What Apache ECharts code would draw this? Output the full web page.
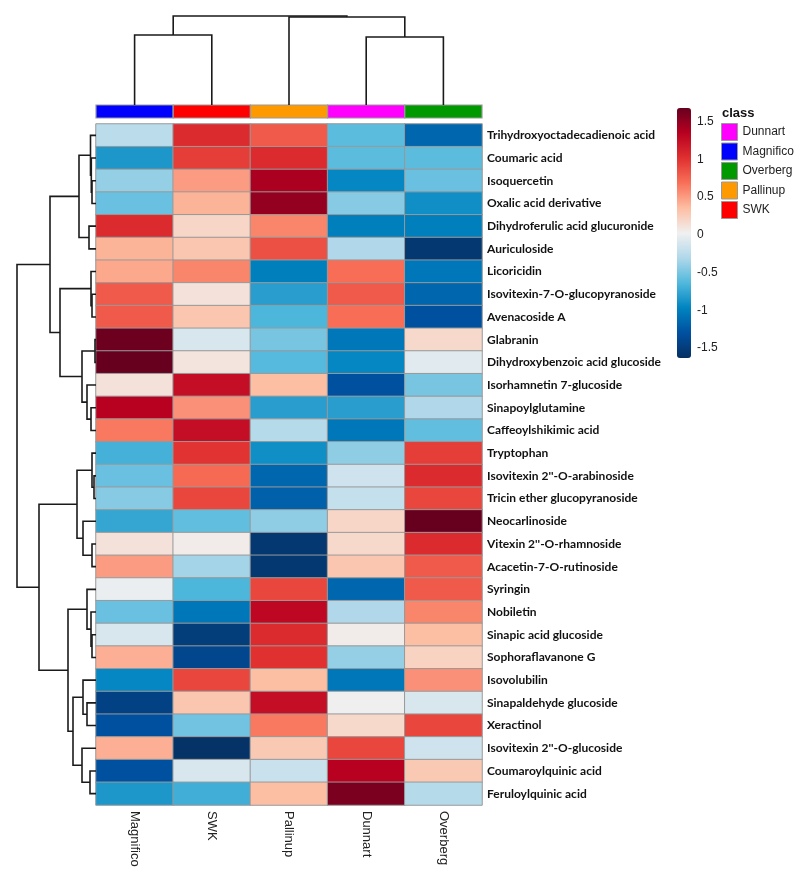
<!DOCTYPE html>
<html><head><meta charset="utf-8">
<script src="https://cdn.jsdelivr.net/npm/echarts@6/dist/echarts.min.js"></script>
<style>html,body{margin:0;padding:0;background:#fff}#c{width:799px;height:882px}</style>
</head><body><div id="c"></div>
<script>
const columns = ['Magnifico','SWK','Pallinup','Dunnart','Overberg'];
const compounds = ['Trihydroxyoctadecadienoic acid','Coumaric acid','Isoquercetin','Oxalic acid derivative','Dihydroferulic acid glucuronide','Auriculoside','Licoricidin','Isovitexin-7-O-glucopyranoside','Avenacoside A','Glabranin','Dihydroxybenzoic acid glucoside','Isorhamnetin 7-glucoside','Sinapoylglutamine','Caffeoylshikimic acid','Tryptophan',"Isovitexin 2''-O-arabinoside",'Tricin ether glucopyranoside','Neocarlinoside',"Vitexin 2''-O-rhamnoside",'Acacetin-7-O-rutinoside','Syringin','Nobiletin','Sinapic acid glucoside','Sophoraflavanone G','Isovolubilin','Sinapaldehyde glucoside','Xeractinol',"Isovitexin 2''-O-glucoside",'Coumaroylquinic acid','Feruloylquinic acid'];
const magnifico = [-0.25,-0.85,-0.4,-0.55,1.05,0.4,0.45,0.8,0.8,1.65,1.7,0.12,1.35,0.65,-0.68,-0.55,-0.45,-0.75,0.12,0.5,0.0,-0.55,-0.1,0.42,-0.95,-1.45,-1.3,0.42,-1.3,-0.85];
const swk       = [1.05,0.95,0.5,0.4,0.2,0.3,0.6,0.12,0.3,-0.1,0.1,1.25,0.55,1.25,1.0,0.72,0.9,-0.58,0.05,-0.35,-0.65,-1.05,-1.5,-1.4,0.9,0.3,-0.52,-1.6,-0.1,-0.7];
const pallinup  = [0.8,1.05,1.4,1.5,0.6,0.85,-1.0,-0.8,-0.65,-0.5,-0.62,0.35,-0.8,-0.28,-0.9,-1.15,-1.2,-0.42,-1.55,-1.55,0.9,1.3,1.05,1.02,0.35,1.25,0.65,0.28,-0.18,0.35];
const dunnart   = [-0.6,-0.6,-0.95,-0.45,-1.0,-0.3,0.7,0.8,0.7,-1.05,-0.95,-1.3,-0.8,-1.05,-0.42,-0.15,-0.2,0.2,0.18,0.3,-1.15,-0.3,0.05,-0.4,-1.05,0.03,0.18,0.9,1.35,1.6];
const overberg  = [-1.15,-0.6,-0.55,-0.9,-1.0,-1.55,-1.05,-1.15,-1.3,0.18,-0.05,-0.5,-0.3,-0.58,0.95,1.05,0.9,1.7,1.05,0.8,0.8,0.6,0.35,0.22,0.55,-0.1,0.9,-0.15,0.28,-0.28];
const colorTicks = [-1.5,-1,-0.5,0,0.5,1,1.5];
const legendClasses = ['Dunnart','Magnifico','Overberg','Pallinup','SWK'];
// dendrograms: [mergeHeight, left, right]; leaves are indices
const rowTree = [79,
  [46,
    [17, [5.5, 0, [4.7, 1, [4, 2, 3]]], [7, 4, 5]],
    [36, [5, 6, [4, 7, 8]], [14, [1, 9, 10], [9, 11, [5, 12, 13]]]]],
  [57,
    [19, [4, 14, [2, 15, 16]], [13, 17, [4, 18, 19]]],
    [28, [9, 20, [5, 21, [4, 22, 23]]], [23, [13, 24, [9, 25, 26]], [14, 27, [6, 28, 29]]]]]];
const colTree = [89, [70, 0, 1], [88, 2, [68, 3, 4]]];

const classColors = {Dunnart:'#ff00ff', Magnifico:'#0000ff', Overberg:'#009900', Pallinup:'#ff9900', SWK:'#ff0000'};

const valueCols = [magnifico, swk, pallinup, dunnart, overberg];
const heatData = [];
compounds.forEach((c, r) => columns.forEach((col, ci) => heatData.push([ci, r, valueCols[ci][r]])));

function layout(node, segs) {
  if (typeof node === 'number') return {pos: node, h: 0};
  const a = layout(node[1], segs), b = layout(node[2], segs), h = node[0];
  segs.push([[a.pos, a.h], [a.pos, h], [b.pos, h], [b.pos, b.h]]);
  return {pos: (a.pos + b.pos) / 2, h: h};
}
const rowSegs = []; layout(rowTree, rowSegs);
const colSegs = []; layout(colTree, colSegs);

const HM = {left: 96, top: 124, width: 386, height: 681};
const chart = echarts.init(document.getElementById('c'), null, {renderer: 'canvas'});
const lineStyle = {color: '#1a1a1a', width: 1.6, opacity: 1};
const classSeries = columns.map((col, ci) => ({
  name: col, type: 'custom', xAxisIndex: 1, yAxisIndex: 1,
  itemStyle: {color: classColors[col]},
  data: [[ci, 0]],
  renderItem: (params, api) => {
    const c = api.coord([api.value(0), api.value(1)]);
    const s = api.size([1, 1]);
    return {type: 'rect', shape: {x: c[0] - s[0] / 2, y: c[1] - s[1] / 2, width: s[0], height: s[1]},
      style: {fill: api.visual('color'), stroke: '#999', lineWidth: 1.2}};
  }
}));

chart.setOption({
  backgroundColor: '#fff',
  animation: false,
  grid: [
    {left: HM.left, top: HM.top, width: HM.width, height: HM.height},
    {left: HM.left, top: 105, width: HM.width, height: 13},
    {left: HM.left, top: 0, width: HM.width, height: 105},
    {left: 0, top: HM.top, width: 96, height: HM.height},
    {left: 677, top: 108, width: 14, height: 250}
  ],
  xAxis: [
    {type: 'category', gridIndex: 0, data: columns, position: 'bottom',
     axisLine: {show: false}, axisTick: {show: false}, splitLine: {show: false},
     axisLabel: {rotate: -90, margin: 6, fontSize: 13, color: '#222', fontFamily: 'Liberation Sans, Arial'}},
    {type: 'category', gridIndex: 1, data: columns, show: false},
    {type: 'value', gridIndex: 2, min: -0.5, max: 4.5, show: false},
    {type: 'value', gridIndex: 3, min: 0, max: 96, inverse: true, show: false},
    {type: 'value', gridIndex: 4, show: false}
  ],
  yAxis: [
    {type: 'category', gridIndex: 0, data: compounds, inverse: true, position: 'right',
     axisLine: {show: false}, axisTick: {show: false}, splitLine: {show: false},
     axisLabel: {margin: 5, fontSize: 12, fontWeight: 'bold', color: '#111', fontFamily: 'Lato'}},
    {type: 'category', gridIndex: 1, data: ['class'], show: false},
    {type: 'value', gridIndex: 2, min: 0, max: 105, show: false},
    {type: 'value', gridIndex: 3, min: -0.5, max: 29.5, inverse: true, show: false},
    {type: 'value', gridIndex: 4, min: -1.63, max: 1.68, position: 'right',
     axisLine: {show: false}, axisTick: {show: false}, splitLine: {show: false},
     axisLabel: {customValues: colorTicks, margin: 6, fontSize: 12, color: '#222', fontFamily: 'Liberation Sans, Arial'}}
  ],
  visualMap: {
    type: 'continuous', seriesIndex: 0, min: -1.63, max: 1.68,
    left: 677, top: 108, itemWidth: 14, itemHeight: 250, padding: 0,
    calculable: false, orient: 'vertical',
    inRange: {color: ['#053061','#0050a0','#0084c0','#50b8dc','#b0d8ea','#f0f0f0','#fdbea2','#f87058','#e03030','#b80020','#67001f']}
  },
  legend: {
    data: legendClasses, orient: 'vertical', left: 721, top: 123, padding: 0,
    itemWidth: 16, itemHeight: 17, itemGap: 1.5, icon: 'rect',
    itemStyle: {borderColor: '#999', borderWidth: 1},
    textStyle: {fontSize: 12, color: '#222', fontFamily: 'Liberation Sans, Arial'},
    selectedMode: false
  },
  graphic: [{type: 'text', left: 722, top: 107,
    style: {text: 'class', font: 'bold 13px "Liberation Sans", Arial', fill: '#111'}}],
  series: [
    {type: 'heatmap', xAxisIndex: 0, yAxisIndex: 0, data: heatData,
     itemStyle: {borderColor: '#999', borderWidth: 1}, emphasis: {disabled: true}},
    ...classSeries,
    {type: 'lines', coordinateSystem: 'cartesian2d', xAxisIndex: 2, yAxisIndex: 2, polyline: true,
     lineStyle: lineStyle, data: colSegs.map(s => ({coords: s}))},
    {type: 'lines', coordinateSystem: 'cartesian2d', xAxisIndex: 3, yAxisIndex: 3, polyline: true,
     lineStyle: lineStyle, data: rowSegs.map(s => ({coords: s.map(p => [p[1], p[0]])}))},
    {type: 'scatter', xAxisIndex: 4, yAxisIndex: 4, data: []}
  ]
});
</script></body></html>
